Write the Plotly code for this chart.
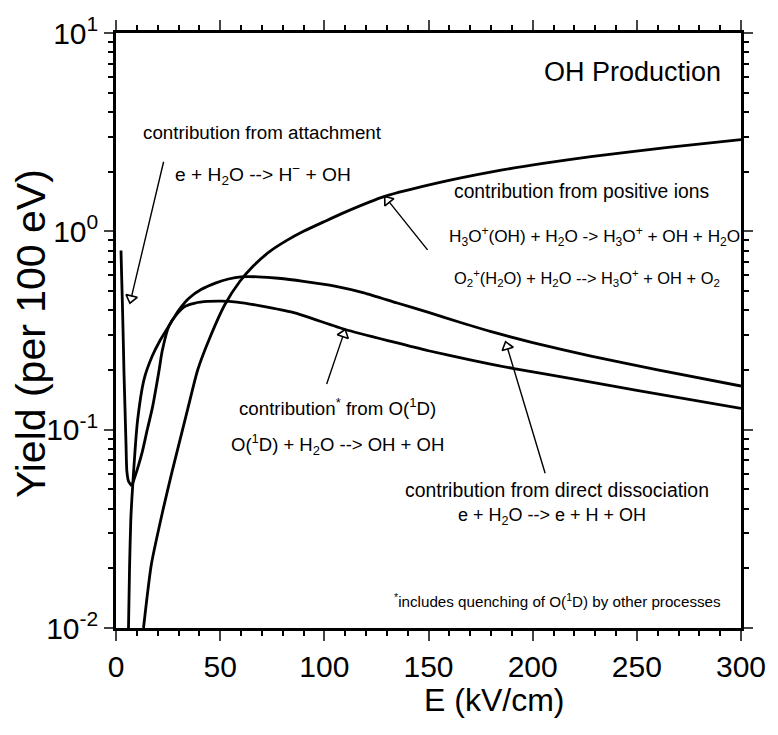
import numpy as np
import plotly.graph_objects as go

# ---- data: OH yield (per 100 eV) vs reduced field E (kV/cm) ----
E_attach = [2.4, 2.7, 3.1, 3.5, 3.8, 4.3, 4.8, 5.2, 6.0, 7.6]
Y_attach = [0.8, 0.6, 0.42, 0.28, 0.2, 0.13, 0.085, 0.062, 0.055, 0.052]

E_direct = [6.0, 6.5, 7.1, 8.0, 10.3, 13.5, 17.4, 21, 25.4, 30.1, 35, 41, 48, 54,
            60, 68, 78, 90, 105, 119, 135, 150, 165, 181, 200, 228, 260, 300]
Y_direct = [0.01, 0.02, 0.035, 0.052, 0.11, 0.18, 0.235, 0.28, 0.333, 0.40, 0.46,
            0.51, 0.55, 0.575, 0.59, 0.59, 0.58, 0.56, 0.53, 0.49, 0.435, 0.39,
            0.348, 0.31, 0.275, 0.235, 0.2, 0.166]

E_o1d = [7.6, 10, 12.7, 15, 17.4, 20.7, 22.1, 25.4, 29, 33.4, 38, 44, 50.5, 58,
         70, 85, 110, 133, 150, 170, 191, 220, 250, 300]
Y_o1d = [0.052, 0.062, 0.078, 0.1, 0.128, 0.2, 0.247, 0.333, 0.38, 0.42, 0.435,
         0.443, 0.445, 0.44, 0.42, 0.39, 0.32, 0.277, 0.25, 0.225, 0.203, 0.18,
         0.158, 0.128]

E_pos = [13.2, 17, 22.7, 27, 31.2, 34.5, 39.2, 45, 52.4, 59.5, 66, 73.7, 82, 90,
         100, 110, 129, 155, 181, 205, 228, 265, 300]
Y_pos = [0.01, 0.021, 0.040, 0.062, 0.093, 0.128, 0.2, 0.29, 0.43, 0.56, 0.67,
         0.79, 0.9, 1.0, 1.12, 1.25, 1.5, 1.76, 2.0, 2.2, 2.38, 2.65, 2.9]

X_TICKS = [0, 50, 100, 150, 200, 250, 300]
Y_TICKS = [0.01, 0.1, 1, 10]
Y_TICKTEXT = ["10<sup>-2</sup>", "10<sup>-1</sup>", "10<sup>0</sup>", "10<sup>1</sup>"]

# ---- layout geometry ----
W, H = 778, 735
ML, MR, MT, MB = 116, 26, 33, 107
PW, PH = W - ML - MR, H - MT - MB
X_RANGE = (0, 300)
Y_LOG_RANGE = (-2, 1)
PX_PER_E = PW / (X_RANGE[1] - X_RANGE[0])
PX_PER_DEC = PH / (Y_LOG_RANGE[1] - Y_LOG_RANGE[0])

FONT = "Liberation Sans, Arial, Helvetica, sans-serif"


def on_curve(E, Y, e):
    """Value of a curve at e, interpolated in log space."""
    return 10 ** np.interp(e, E, np.log10(Y))


fig = go.Figure()
for E, Y in [(E_attach, Y_attach), (E_direct, Y_direct), (E_o1d, Y_o1d), (E_pos, Y_pos)]:
    fig.add_trace(go.Scatter(x=E, y=Y, mode="lines",
                             line=dict(color="black", width=2.8, shape="spline", smoothing=0.6),
                             showlegend=False, hoverinfo="skip"))

# ---- pointer arrows: (E at tip, Y at tip, tail offset dx, dy in px) ----
arrows = [
    (6.7, 0.434, 34, -143),                                    # attachment spike
    (129, on_curve(E_pos, Y_pos, 129), 44, 55),               # positive ions
    (110, on_curve(E_o1d, Y_o1d, 110), -19, 56),              # O(1D)
    (187, on_curve(E_direct, Y_direct, 187) * 0.93, 40, 133),  # direct dissociation
]
HEAD = 10
hx, hy, hang = [], [], []
for e, y, dx, dy in arrows:
    fig.add_annotation(x=e, y=np.log10(y), xref="x", yref="y", ax=dx, ay=dy,
                       showarrow=True, arrowhead=0, arrowwidth=1.4,
                       arrowcolor="black", standoff=HEAD * 0.7, text="")
    ux, uy = -dx, -dy
    n = np.hypot(ux, uy)
    ux, uy = ux / n, uy / n
    r = HEAD / 2
    hx.append(e - ux * r / PX_PER_E)
    hy.append(10 ** (np.log10(y) + uy * r / PX_PER_DEC))
    hang.append(float(np.degrees(np.arctan2(ux, -uy))))

fig.add_trace(go.Scatter(x=hx, y=hy, mode="markers",
                         marker=dict(symbol="triangle-up-open", size=HEAD, angle=hang,
                                     color="black", line=dict(color="black", width=1.6)),
                         showlegend=False, hoverinfo="skip"))

# ---- text labels ----
labels = [
    ("OH Production", 0.826, 0.934, 27),
    ("contribution from attachment", 0.235, 0.832, 18.8),
    ("e + H<sub>2</sub>O --> H<sup>−</sup> + OH", 0.235, 0.762, 19.2),
    ("contribution from positive ions", 0.745, 0.733, 19.3),
    ("H<sub>3</sub>O<sup>+</sup>(OH) + H<sub>2</sub>O -> H<sub>3</sub>O<sup>+</sup> + OH + H<sub>2</sub>O",
     0.766, 0.658, 17.2),
    ("O<sub>2</sub><sup>+</sup>(H<sub>2</sub>O) + H<sub>2</sub>O --> H<sub>3</sub>O<sup>+</sup> + OH + O<sub>2</sub>",
     0.753, 0.588, 16.4),
    ("contribution<sup>*</sup> from O(<sup>1</sup>D)", 0.354, 0.372, 18.7),
    ("O(<sup>1</sup>D) + H<sub>2</sub>O --> OH + OH", 0.354, 0.308, 18.5),
    ("contribution from direct dissociation", 0.706, 0.232, 19.4),
    ("e + H<sub>2</sub>O --> e + H + OH", 0.698, 0.187, 18),
    ("<sup>*</sup>includes quenching of O(<sup>1</sup>D) by other processes", 0.706, 0.047, 15.2),
]
for txt, x, y, s in labels:
    fig.add_annotation(text=txt, x=x, y=y, xref="paper", yref="paper",
                       showarrow=False, xanchor="center", yanchor="middle",
                       font=dict(family=FONT, size=s, color="black"))

# axis titles
fig.add_annotation(text="E (kV/cm)", x=0.604, y=-0.121, xref="paper", yref="paper",
                   showarrow=False, xanchor="center", yanchor="middle",
                   font=dict(family=FONT, size=32, color="black"))
fig.add_annotation(text="Yield (per 100 eV)", x=-0.135, y=0.495, xref="paper", yref="paper",
                   showarrow=False, textangle=-90, xanchor="center", yanchor="middle",
                   font=dict(family=FONT, size=41, color="black"))

minor_y = [m * 10.0 ** d for d in (-2, -1, 0) for m in range(2, 10)]

fig.update_layout(
    width=W, height=H,
    margin=dict(l=ML, r=MR, t=MT, b=MB),
    paper_bgcolor="white", plot_bgcolor="white",
    font=dict(family=FONT, color="black"),
    xaxis=dict(range=list(X_RANGE), tickvals=X_TICKS, ticks="outside", ticklen=10,
               tickwidth=2, showline=True, linewidth=2.5, linecolor="black",
               mirror="allticks", showgrid=False, zeroline=False,
               tickfont=dict(size=30, family=FONT, color="black"),
               minor=dict(dtick=10, ticks="outside", ticklen=5, tickwidth=1.5,
                          tickcolor="black", showgrid=False)),
    yaxis=dict(type="log", range=list(Y_LOG_RANGE), tickvals=Y_TICKS, ticktext=Y_TICKTEXT,
               ticks="outside", ticklen=9, tickwidth=2, showline=True, linewidth=2.5,
               linecolor="black", mirror="allticks", showgrid=False, zeroline=False,
               tickfont=dict(size=30, family=FONT, color="black"),
               minor=dict(tickvals=minor_y, ticks="outside", ticklen=5, tickwidth=1.5,
                          tickcolor="black", showgrid=False)),
)

fig.write_html("out.html")
